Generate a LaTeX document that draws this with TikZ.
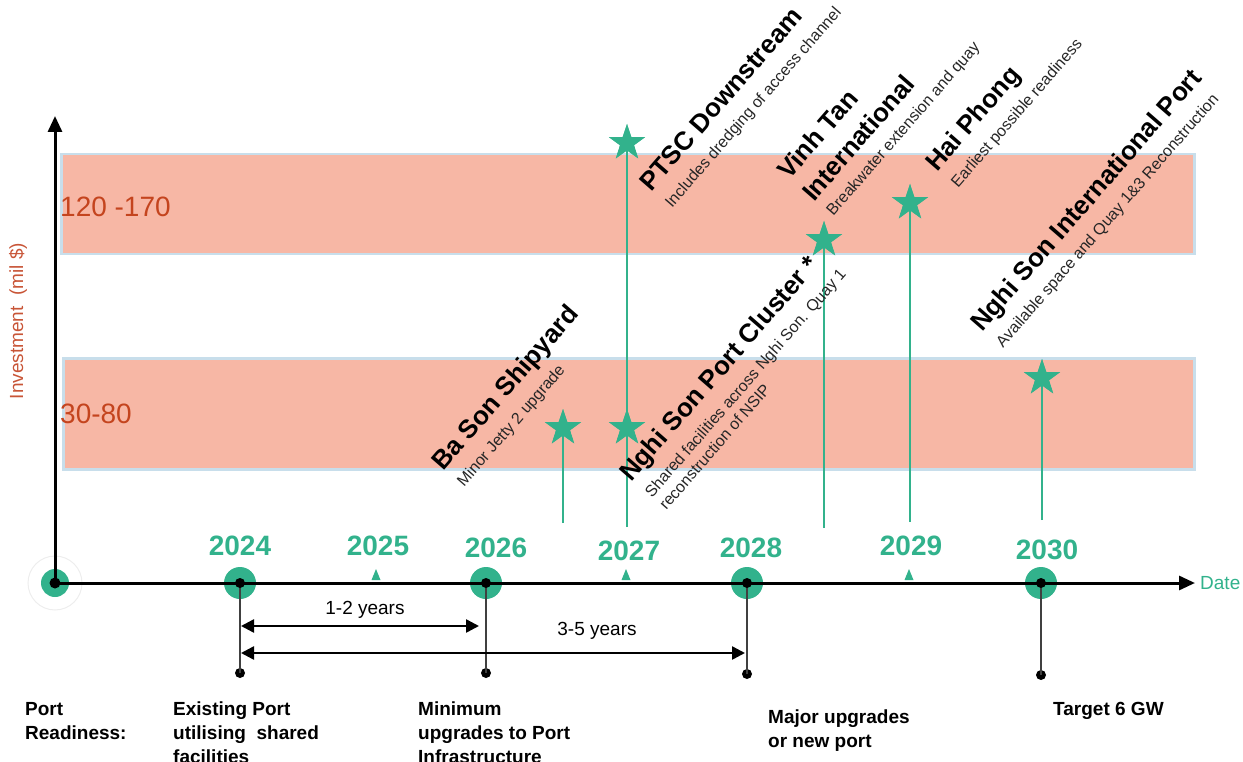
\documentclass[tikz,border=0pt]{standalone}
\usepackage{fontspec}
\setmainfont{Liberation Sans}
\usetikzlibrary{shapes.geometric,arrows.meta}
\definecolor{teal1}{RGB}{50,178,140}
\definecolor{bandfill}{RGB}{247,183,165}
\definecolor{bandedge}{RGB}{200,222,235}
\definecolor{rng}{RGB}{196,68,30}
\definecolor{invc}{RGB}{200,85,55}
\begin{document}
\begin{tikzpicture}[x=1pt,y=-1pt,
  bandbox/.style={draw=bandedge, fill=bandfill, line width=2.5pt, anchor=north west, inner sep=0},
  rnglbl/.style={anchor=west, inner sep=0, text=rng, font=\fontsize{28}{32}\selectfont},
  axisline/.style={line width=3pt, -{Triangle[length=16pt,width=14pt]}},
  yearc/.style={circle, fill=teal1, minimum size=32pt, inner sep=0},
  bdot/.style={circle, fill=black, minimum size=10pt, inner sep=0},
  sdot/.style={circle, fill=black, minimum size=10pt, inner sep=0},
  stemline/.style={line width=1.3pt, black!75},
  yr/.style={inner sep=0, text=teal1, font=\fontsize{28}{32}\selectfont\bfseries},
  dbl/.style={line width=2.5pt, {Triangle[length=13pt,width=13pt]}-{Triangle[length=13pt,width=13pt]}},
  spanlbl/.style={inner sep=0, font=\fontsize{19}{22}\selectfont},
  starn/.style={star, star points=5, star point ratio=2.6, fill=teal1, minimum size=38pt, inner sep=0},
  gstem/.style={line width=2.5pt, teal1},
  ttl/.style={anchor=base west, inner sep=0, font=\fontsize{26}{30}\selectfont\bfseries},
  sublbl/.style={anchor=base west, inner sep=0, text=black!85, font=\fontsize{16}{19}\selectfont},
  bl/.style={anchor=north west, align=left, inner sep=0, font=\fontsize{19}{24}\selectfont\bfseries},
  tickmark/.style={fill=teal1}
]
\useasboundingbox (0,0) rectangle (1243,762);

% bands
\node[bandbox, minimum width=1133pt, minimum height=100pt] (band1) at (60,153) {};
\node[bandbox, minimum width=1131pt, minimum height=111pt] (band2) at (62,357) {};
\node[rnglbl] (r1) at (60,207) {120 -170};
\node[rnglbl] (r2) at (60,414) {30-80};
\node[rotate=90, inner sep=0, text=invc, font=\fontsize{19}{22}\selectfont] (inv) at (18,321) {Investment\ \ (mil \$)};

% origin and year circles
\coordinate (O) at (55,583);
\node[circle, draw=black!7, line width=1pt, minimum size=54pt, inner sep=0] (ring) at (O) {};
\node[yearc, minimum size=28pt] (c0) at (O) {};
\node[yearc] (c2024) at (240,583) {};
\node[yearc] (c2026) at (486,583) {};
\node[yearc] (c2028) at (747,583) {};
\node[yearc] (c2030) at (1041,583) {};

% small ticks
\fill[tickmark] (376,569) -- (380.5,580) -- (371.5,580) -- cycle;
\fill[tickmark] (626,569) -- (630.5,580) -- (621.5,580) -- cycle;
\fill[tickmark] (909,569) -- (913.5,580) -- (904.5,580) -- cycle;

% axes
\coordinate (ytop) at (55,116);
\coordinate (xend) at (1195,583);
\draw[axisline] (O) -- (ytop);
\draw[axisline] (O) -- (xend);
\node[inner sep=0, anchor=west, text=teal1, font=\fontsize{19}{22}\selectfont] (date) at (1200,583) {Date};

% stems below axis
\node[sdot] (e2024) at (240,673) {};
\node[sdot] (e2026) at (486,673) {};
\node[sdot] (e2028) at (747,674) {};
\node[sdot] (e2030) at (1041,675) {};
\draw[stemline] (c2024.center) -- (e2024.center);
\draw[stemline] (c2026.center) -- (e2026.center);
\draw[stemline] (c2028.center) -- (e2028.center);
\draw[stemline] (c2030.center) -- (e2030.center);

% centre dots
\node[bdot, minimum size=11pt] (d0) at (O) {};
\node[bdot] (d2024) at (c2024) {};
\node[bdot] (d2026) at (c2026) {};
\node[bdot] (d2028) at (c2028) {};
\node[bdot] (d2030) at (c2030) {};

% year labels
\node[yr] (y2024) at (240,546) {2024};
\node[yr] (y2025) at (378,546) {2025};
\node[yr] (y2026) at (496,548) {2026};
\node[yr] (y2027) at (629,551) {2027};
\node[yr] (y2028) at (751,548) {2028};
\node[yr] (y2029) at (911,546) {2029};
\node[yr] (y2030) at (1047,550) {2030};

% span arrows
\coordinate (a1s) at (241,626);
\coordinate (a1e) at (479,626);
\coordinate (a2s) at (241,653);
\coordinate (a2e) at (745,653);
\draw[dbl] (a1s) -- (a1e);
\draw[dbl] (a2s) -- (a2e);
\node[spanlbl] (l12) at (365,610) {1-2 years};
\node[spanlbl] (l35) at (597,631) {3-5 years};

% green stems and stars
\coordinate (g1) at (563,523);
\coordinate (g2) at (627,527);
\coordinate (g3) at (824,528);
\coordinate (g4) at (910,522);
\coordinate (g5) at (1042,520);
\node[starn] (sbason) at (563,428) {};
\node[starn] (sptsc) at (627,143) {};
\node[starn] (snsc) at (627,428) {};
\node[starn] (svt) at (824,240) {};
\node[starn] (shp) at (910,203) {};
\node[starn] (snsi) at (1042,378) {};
\draw[gstem] (g1) -- (sbason.center);
\draw[gstem] (g2) -- (sptsc.center);
\draw[gstem] (g3) -- (svt.center);
\draw[gstem] (g4) -- (shp.center);
\draw[gstem] (g5) -- (snsi.center);
\node[starn] at (sbason) {};
\node[starn] at (sptsc) {};
\node[starn] at (snsc) {};
\node[starn] at (svt) {};
\node[starn] at (shp) {};
\node[starn] at (snsi) {};

% rotated labels
\begin{scope}[shift={(443,472)}, rotate=49, transform shape]
  \node[ttl] (tbason) at (0pt,0pt) {Ba Son Shipyard};
  \node[sublbl] (ubason) at (2pt,-26pt) {Minor Jetty 2 upgrade};
\end{scope}
\begin{scope}[shift={(651,193)}, rotate=49, transform shape]
  \node[ttl] (tptsc) at (0pt,0pt) {PTSC Downstream};
  \node[sublbl] (uptsc) at (2pt,-26pt) {Includes dredging of access channel};
\end{scope}
\begin{scope}[shift={(789,181)}, rotate=49, transform shape]
  \node[ttl] (tvt) at (0pt,0pt) {Vinh Tan};
  \node[ttl] (tvt2) at (0pt,-33pt) {International};
  \node[sublbl] (uvt) at (2pt,-57pt) {Breakwater extension and quay};
\end{scope}
\begin{scope}[shift={(937,173)}, rotate=49, transform shape]
  \node[ttl] (thp) at (0pt,0pt) {Hai Phong};
  \node[sublbl] (uhp) at (2pt,-26pt) {Earliest possible readiness};
\end{scope}
\begin{scope}[shift={(631,483)}, rotate=49, transform shape]
  \node[ttl] (tnsc) at (0pt,0pt) {Nghi Son Port Cluster *};
  \node[sublbl] (unsc) at (2pt,-26pt) {Shared facilities across Nghi Son. Quay 1};
  \node[sublbl] (unsc2) at (2pt,-45pt) {reconstruction of NSIP};
\end{scope}
\begin{scope}[shift={(982,333)}, rotate=49, transform shape]
  \node[ttl] (tnsi) at (0pt,0pt) {Nghi Son International Port};
  \node[sublbl] (unsi) at (2pt,-26pt) {Available space and Quay 1\&3 Reconstruction};
\end{scope}

% bottom labels
\node[bl] (bpr) at (25,702) {Port\\Readiness:};
\node[bl] (bex) at (173,702) {Existing Port\\utilising\ \ shared\\facilities};
\node[bl] (bmin) at (418,702) {Minimum\\upgrades to Port\\Infrastructure};
\node[bl] (bmaj) at (768,710) {Major upgrades\\or new port};
\node[bl] (btg) at (1053,702) {Target 6 GW};
\end{tikzpicture}
\end{document}
